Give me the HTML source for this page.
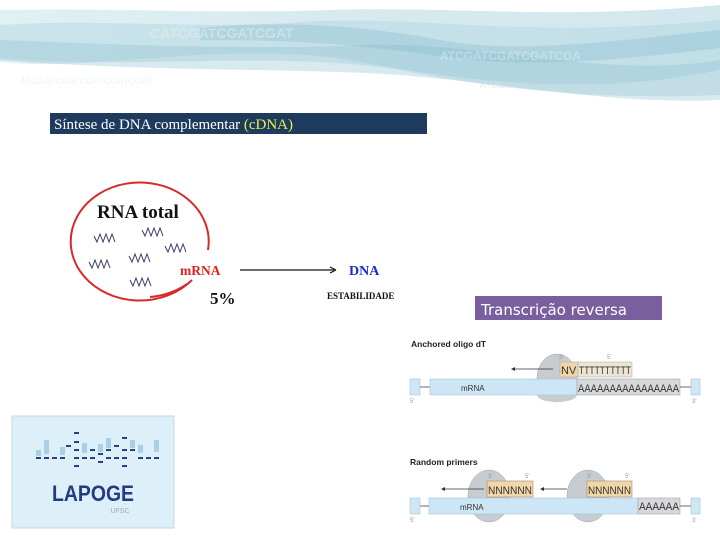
<!DOCTYPE html>
<html><head><meta charset="utf-8"><style>
html,body{margin:0;padding:0;background:#fff;}
svg{display:block;}
</style></head><body>
<svg width="720" height="540" viewBox="0 0 720 540" xmlns="http://www.w3.org/2000/svg" font-family="Liberation Sans, sans-serif">
<defs>
<linearGradient id="wg" x1="0" y1="0" x2="1" y2="0">
<stop offset="0" stop-color="#bcdde6"/><stop offset="0.5" stop-color="#a6cfdc"/><stop offset="1" stop-color="#9ccbd9"/>
</linearGradient>
</defs>
<!-- header waves -->
<path d="M0,10 C120,8 220,14 330,10 C450,6 560,20 720,5 L720,70 C600,95 480,85 350,60 C220,40 100,72 0,62 Z" fill="url(#wg)" opacity="0.45"/>
<path d="M0,25 C100,18 200,30 300,22 C420,14 520,40 720,20 L720,95 C600,100 500,90 400,70 C280,50 140,70 0,58 Z" fill="#a9d2de" opacity="0.4"/>
<path d="M0,40 C120,45 260,50 360,45 C480,40 600,80 720,60 L720,100 C620,105 520,85 400,75 C300,68 150,72 0,60 Z" fill="#8fc1d2" opacity="0.35"/>
<path d="M200,28 C280,20 360,25 440,40 C520,55 620,40 720,30 L720,48 C620,60 520,70 430,55 C340,42 280,40 200,40 Z" fill="#7fb6c9" opacity="0.3"/>
<text x="150" y="38" font-size="14" fill="#e8f3f6" opacity="0.45" font-weight="bold">CATCGATCGATCGAT</text>
<text x="440" y="60" font-size="12" fill="#e8f3f6" opacity="0.4" font-weight="bold">ATCGATCGATCGATCGA</text>
<text x="20" y="84" font-size="9" fill="#cfe4ea" opacity="0.4">ATCGATCGATCGATCGATCGAT</text>
<text x="480" y="88" font-size="9" fill="#bcd8e1" opacity="0.5">ATCGATCGATCGATCGATCGATCGA</text>

<!-- title bar -->
<rect x="50" y="113" width="377" height="21" fill="#1e3b5e"/>
<text x="54" y="129" font-family="Liberation Serif, serif" font-size="14.5" fill="#fff" textLength="239" lengthAdjust="spacingAndGlyphs">Síntese de DNA complementar <tspan fill="#e8ef4a">(cDNA)</tspan></text>

<!-- circle -->
<path d="M192,280 A69,59 0 1 1 208,250" fill="none" stroke="#d62b2b" stroke-width="2"/>
<path d="M187,284 A69,59 0 0 1 150,297" fill="none" stroke="#d62b2b" stroke-width="2"/>
<text x="97" y="218" font-family="Liberation Serif, serif" font-size="19" font-weight="bold" fill="#111">RNA total</text>
<g fill="none" stroke="#3a3a6a" stroke-width="1">
<path d="M94,236 l3,6 l3,-8 l3,8 l3,-8 l3,8 l3,-8 l3,8"/>
<path d="M142,230 l3,6 l3,-8 l3,8 l3,-8 l3,8 l3,-8 l3,8"/>
<path d="M165,246 l3,6 l3,-8 l3,8 l3,-8 l3,8 l3,-8 l3,8"/>
<path d="M89,262 l3,6 l3,-8 l3,8 l3,-8 l3,8 l3,-8 l3,8"/>
<path d="M129,256 l3,6 l3,-8 l3,8 l3,-8 l3,8 l3,-8 l3,8"/>
<path d="M130,280 l3,6 l3,-8 l3,8 l3,-8 l3,8 l3,-8 l3,8"/>
</g>
<text x="180" y="275" font-family="Liberation Serif, serif" font-size="13.5" font-weight="bold" fill="#e02020">mRNA</text>
<line x1="240" y1="270" x2="334" y2="270" stroke="#111" stroke-width="1.2"/>
<path d="M336,270 l-6,-3 M336,270 l-6,3" stroke="#111" stroke-width="1.2"/>
<text x="349" y="275" font-family="Liberation Serif, serif" font-size="14" font-weight="bold" fill="#1a2ad0">DNA</text>
<text x="210" y="304" font-family="Liberation Serif, serif" font-size="17" font-weight="bold" fill="#111">5%</text>
<text x="327" y="299" font-family="Liberation Serif, serif" font-size="9" font-weight="bold" fill="#111">ESTABILIDADE</text>

<!-- Transcrição reversa -->
<rect x="475" y="296" width="187" height="24" fill="#7a5f9f"/>
<text x="481" y="315" font-family="DejaVu Sans, sans-serif" font-size="15" fill="#fff">Transcrição reversa</text>

<!-- diagram 1 -->
<text x="411" y="347" font-size="8.5" font-weight="bold" fill="#222">Anchored oligo dT</text>
<ellipse cx="557" cy="378" rx="20" ry="24" fill="#c6cccf" stroke="#9aa" stroke-width="0.5"/>
<line x1="420" y1="387" x2="430" y2="387" stroke="#444" stroke-width="0.8"/>
<line x1="680" y1="387" x2="691" y2="387" stroke="#444" stroke-width="0.8"/>
<rect x="410" y="379" width="10" height="16" fill="#cfe6f4" stroke="#9bbdd0" stroke-width="0.5"/>
<rect x="691" y="379" width="9" height="16" fill="#cfe6f4" stroke="#9bbdd0" stroke-width="0.5"/>
<rect x="430" y="379" width="147" height="16" fill="#cde6f5" stroke="#9bbdd0" stroke-width="0.5"/>
<path d="M537,395 A20,7 0 0 0 577,395 Z" fill="#c6cccf"/>
<rect x="577" y="379" width="103" height="16" fill="#d6d8d9" stroke="#999" stroke-width="0.5"/>
<text x="578" y="392" font-size="11" fill="#333" textLength="101" lengthAdjust="spacingAndGlyphs">AAAAAAAAAAAAAAAA</text>
<text x="461" y="391" font-size="8" fill="#333">mRNA</text>
<rect x="560" y="362" width="18" height="15" fill="#f1d6a8" stroke="#b99" stroke-width="0.5"/>
<rect x="578" y="362" width="54" height="15" fill="#ede5d3" stroke="#aaa" stroke-width="0.5"/>
<text x="561" y="374" font-size="11" fill="#333">NV</text>
<text x="579" y="374" font-size="11" fill="#333" textLength="52" lengthAdjust="spacingAndGlyphs">TTTTTTTTTT</text>
<text x="559" y="359" font-size="6" fill="#999">3'</text>
<text x="607" y="359" font-size="6" fill="#999">5'</text>
<line x1="514" y1="369" x2="553" y2="369" stroke="#333" stroke-width="0.8"/>
<path d="M511,369 l4,-2 v4 z" fill="#333"/>
<text x="410" y="403" font-size="6" fill="#999">5'</text>
<text x="692" y="403" font-size="6" fill="#999">3'</text>

<!-- diagram 2 -->
<text x="410" y="465" font-size="8.5" font-weight="bold" fill="#222">Random primers</text>
<ellipse cx="489" cy="496" rx="21" ry="26" fill="#c6cccf" stroke="#9aa" stroke-width="0.5"/>
<ellipse cx="588" cy="496" rx="21" ry="26" fill="#c6cccf" stroke="#9aa" stroke-width="0.5"/>
<line x1="420" y1="506" x2="429" y2="506" stroke="#444" stroke-width="0.8"/>
<line x1="680" y1="506" x2="691" y2="506" stroke="#444" stroke-width="0.8"/>
<rect x="410" y="498" width="10" height="16" fill="#cfe6f4" stroke="#9bbdd0" stroke-width="0.5"/>
<rect x="691" y="498" width="9" height="16" fill="#cfe6f4" stroke="#9bbdd0" stroke-width="0.5"/>
<rect x="429" y="498" width="209" height="16" fill="#cde6f5" stroke="#9bbdd0" stroke-width="0.5"/>
<rect x="638" y="498" width="42" height="16" fill="#d6d8d9" stroke="#999" stroke-width="0.5"/>
<text x="639" y="510" font-size="11" fill="#333" textLength="40" lengthAdjust="spacingAndGlyphs">AAAAAA</text>
<text x="460" y="510" font-size="8" fill="#333">mRNA</text>
<rect x="487" y="481" width="46" height="16" fill="#f1d6a8" stroke="#a87" stroke-width="0.6"/>
<rect x="587" y="481" width="45" height="16" fill="#f1d6a8" stroke="#a87" stroke-width="0.6"/>
<text x="488" y="494" font-size="11" fill="#333" textLength="44" lengthAdjust="spacingAndGlyphs">NNNNNN</text>
<text x="588" y="494" font-size="11" fill="#333" textLength="43" lengthAdjust="spacingAndGlyphs">NNNNNN</text>
<text x="488" y="478" font-size="6" fill="#999">3'</text><text x="525" y="478" font-size="6" fill="#999">5'</text>
<text x="587" y="478" font-size="6" fill="#999">3'</text><text x="625" y="478" font-size="6" fill="#999">5'</text>
<line x1="444" y1="489" x2="484" y2="489" stroke="#333" stroke-width="0.8"/>
<path d="M441,489 l4,-2 v4 z" fill="#333"/>
<line x1="543" y1="489" x2="567" y2="489" stroke="#333" stroke-width="0.8"/>
<path d="M540,489 l4,-2 v4 z" fill="#333"/>
<text x="410" y="522" font-size="6" fill="#999">5'</text>
<text x="692" y="522" font-size="6" fill="#999">3'</text>

<!-- logo -->
<rect x="12" y="416" width="162" height="112" fill="#ddf0fa" stroke="#c9d6dc" stroke-width="1"/>
<g fill="#9fc7e0" opacity="0.8">
<rect x="44" y="440" width="5" height="14"/><rect x="82" y="443" width="5" height="10"/><rect x="106" y="438" width="5" height="10"/><rect x="138" y="445" width="5" height="8"/><rect x="154" y="440" width="5" height="12"/>
<rect x="36" y="450" width="5" height="6"/><rect x="60" y="447" width="5" height="8"/><rect x="98" y="444" width="5" height="8"/><rect x="130" y="440" width="5" height="8"/>
</g>
<g fill="#2b3f86">
<rect x="36" y="457" width="5" height="2"/><rect x="44" y="457" width="5" height="2"/><rect x="52" y="457" width="5" height="2"/><rect x="60" y="457" width="5" height="2"/>
<rect x="74" y="441" width="5" height="2"/><rect x="74" y="449" width="5" height="2"/><rect x="74" y="457" width="5" height="2"/><rect x="74" y="465" width="5" height="2"/><rect x="74" y="432" width="5" height="2"/>
<rect x="66" y="445" width="5" height="2"/><rect x="82" y="457" width="5" height="2"/><rect x="90" y="449" width="5" height="2"/>
<rect x="98" y="453" width="5" height="2"/><rect x="106" y="449" width="5" height="2"/><rect x="106" y="457" width="5" height="2"/><rect x="114" y="445" width="5" height="2"/>
<rect x="122" y="437" width="5" height="2"/><rect x="122" y="449" width="5" height="2"/><rect x="122" y="457" width="5" height="2"/><rect x="122" y="465" width="5" height="2"/>
<rect x="130" y="449" width="5" height="2"/><rect x="138" y="457" width="5" height="2"/><rect x="146" y="457" width="5" height="2"/><rect x="154" y="457" width="5" height="2"/>
<rect x="114" y="457" width="5" height="2"/><rect x="98" y="461" width="5" height="2"/><rect x="90" y="457" width="5" height="2"/>
</g>
<text x="93" y="501" text-anchor="middle" font-size="22" fill="#243a82" font-weight="bold" textLength="82" lengthAdjust="spacingAndGlyphs">LAPOGE</text>
<text x="120" y="513" text-anchor="middle" font-size="7" fill="#9ab">UFSC</text>
</svg>
</body></html>
